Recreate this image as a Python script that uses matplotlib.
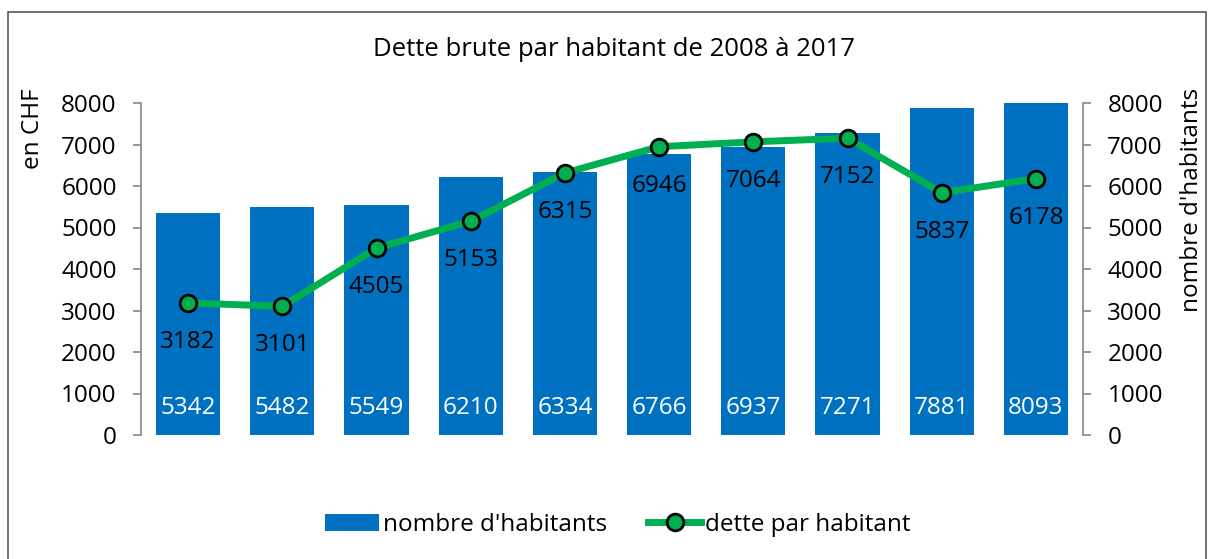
import matplotlib
matplotlib.use("Agg")
import matplotlib.pyplot as plt
from matplotlib.lines import Line2D
from matplotlib.patches import Rectangle, Patch

years = ["2008", "2009", "2010", "2011", "2012", "2013", "2014", "2015", "2016", "2017"]
habitants = [5342, 5482, 5549, 6210, 6334, 6766, 6937, 7271, 7881, 8093]
dette = [3182, 3101, 4505, 5153, 6315, 6946, 7064, 7152, 5837, 6178]
yticks = [0, 1000, 2000, 3000, 4000, 5000, 6000, 7000, 8000]

plt.rcParams['font.family'] = ['Open Sans', 'DejaVu Sans']
FS = 17.5
BLUE = '#0070C0'
GREEN = '#00B050'
GRAY = '#868686'

fig = plt.figure(figsize=(12.08, 5.59), dpi=100)
fig.patches.append(Rectangle((8/1208, -0.01), 1198/1208, 1 - 12/559 + 0.01,
                             transform=fig.transFigure, fill=False,
                             edgecolor='#595959', linewidth=1.2))

ax = fig.add_axes([141/1208, 1 - 435/559, (1083 - 141)/1208, (435 - 103)/559])
ax2 = ax.twinx()
ax.set_zorder(ax2.get_zorder() + 1)
ax.patch.set_visible(False)

x = list(range(len(years)))
ax2.bar(x, habitants, width=0.68, color=BLUE)
for xi, v in zip(x, habitants):
    ax2.text(xi, 650, str(v), color='white', ha='center', va='center', fontsize=FS)

ax.plot(x, dette, color=GREEN, linewidth=5, marker='o', markersize=12,
        markerfacecolor=GREEN, markeredgecolor='black', markeredgewidth=2)
for xi, v in zip(x, dette):
    ax.annotate(str(v), (xi, v), xytext=(0, -28), textcoords='offset points',
                ha='center', va='center', fontsize=FS, color='black')

for a in (ax, ax2):
    a.set_ylim(0, 8000)
    a.set_xlim(-0.5, len(years) - 0.5)
    a.set_yticks(yticks)
    for s in a.spines.values():
        s.set_visible(False)
    a.tick_params(axis='y', colors=GRAY, labelcolor='black', labelsize=FS,
                  length=6, width=1.2, pad=11.5)
    a.tick_params(axis='x', length=0, labelsize=FS, pad=14)

ax.spines['left'].set_visible(True)
ax.spines['left'].set_color(GRAY)
ax.spines['left'].set_linewidth(1.2)
ax2.spines['right'].set_visible(True)
ax2.spines['right'].set_color(GRAY)
ax2.spines['right'].set_linewidth(1.2)

ax.set_xticks(x)
ax.set_xticklabels(years)
ax2.set_xticks([])

fig.text(33/1208, 1 - 88/559, "en CHF", fontsize=FS, rotation=90, ha='center', va='top')
fig.text(1192/1208, 1 - 88/559, "nombre d'habitants", fontsize=FS, rotation=90,
         ha='center', va='top')

fig.text(614/1208, 1 - 50/559, "Dette brute par habitant de 2008 à 2017",
         ha='center', va='center', fontsize=18.5)

handles = [Patch(facecolor=BLUE, label="nombre d'habitants"),
           Line2D([0], [0], color=GREEN, linewidth=5, marker='o', markersize=12,
                  markerfacecolor=GREEN, markeredgecolor='black', markeredgewidth=2,
                  label="dette par habitant")]
fig.legend(handles=handles, loc='center', bbox_to_anchor=(618/1208, 1 - 525/559),
           ncol=2, frameon=False, fontsize=FS, handlelength=2.2, handletextpad=0.15,
           columnspacing=1.7)

fig.savefig("out.png", dpi=100)
